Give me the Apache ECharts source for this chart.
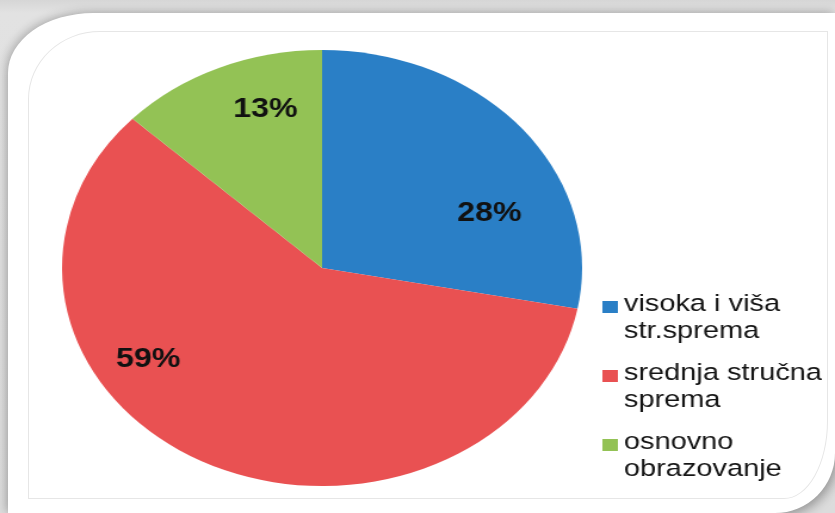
<!DOCTYPE html>
<html>
<head>
<meta charset="utf-8">
<script src="https://cdn.jsdelivr.net/npm/echarts@6/dist/echarts.min.js"></script>
<style>
  html, body { margin: 0; padding: 0; }
  body { width: 835px; height: 513px; overflow: hidden; position: relative;
         background: linear-gradient(to bottom, #d6d6d6 0px, #e2e2e2 13px, #dcdcdc 100%); }
  #box { position: absolute; left: 8px; top: 13px; width: 827px; height: 500px;
         background: #fff;
         border-top-left-radius: 85px 60px;
         border-bottom-right-radius: 60px 60px;
         box-shadow: -3px -2px 8px rgba(0,0,0,0.18), 4px 4px 10px rgba(0,0,0,0.25); }
  #inner { position: absolute; left: 28px; top: 31px; width: 798px; height: 466px;
           border: 1px solid #e6e6e6;
           border-top-left-radius: 72px 68px;
           border-bottom-right-radius: 44px 78px; }
  #chart { position: absolute; left: 0; top: 0; width: 700px; height: 513px;
           transform: scaleX(1.192857); transform-origin: 0 0; }
</style>
</head>
<body>
<div id="box"></div>
<div id="inner"></div>
<div id="chart"></div>
<script>
// ---- data ----
const categories = ['visoka i viša str.sprema', 'srednja stručna sprema', 'osnovno obrazovanje'];
const values = [28, 59, 13];
const colors = ['#2a7fc6', '#e95152', '#93c255'];

// ---- label nudges (style, in chart units) ----
const labelNudge = [[54, 17], [-95, -8], [-3, -56]];

const chart = echarts.init(document.getElementById('chart'), null, { renderer: 'canvas' });

const seriesData = categories.map((name, i) => ({
  name: name,
  value: values[i],
  itemStyle: { color: colors[i] }
}));

chart.setOption({
  animation: false,
  backgroundColor: 'transparent',
  legend: {
    orient: 'vertical',
    left: 505,
    top: 291,
    padding: 0,
    itemGap: 15,
    itemWidth: 13,
    itemHeight: 54,
    icon: 'path://M0,0M13,54M0,10L13,10L13,22L0,22Z',
    selectedMode: false,
    formatter: function (name) {
      const k = name.lastIndexOf(' ');
      return k > 0 ? name.slice(0, k) + '\n' + name.slice(k + 1) : name;
    },
    textStyle: {
      fontFamily: 'Liberation Sans, Arial, sans-serif',
      fontSize: 24.3,
      lineHeight: 27,
      color: '#151515'
    },
    data: categories
  },
  series: [{
    type: 'pie',
    center: [270, 268],
    radius: [0, 218],
    startAngle: 90,
    clockwise: true,
    silent: true,
    label: {
      show: true,
      position: 'inside',
      formatter: function (p) { return Math.round(p.percent) + '%'; },
      fontFamily: 'Liberation Sans, Arial, sans-serif',
      fontWeight: 'bold',
      fontSize: 27,
      color: '#111'
    },
    labelLine: { show: false },
    labelLayout: function (params) {
      const n = labelNudge[params.dataIndex];
      return { dx: n[0], dy: n[1] };
    },
    itemStyle: { borderWidth: 0 },
    data: seriesData
  }]
});
</script>
</body>
</html>
